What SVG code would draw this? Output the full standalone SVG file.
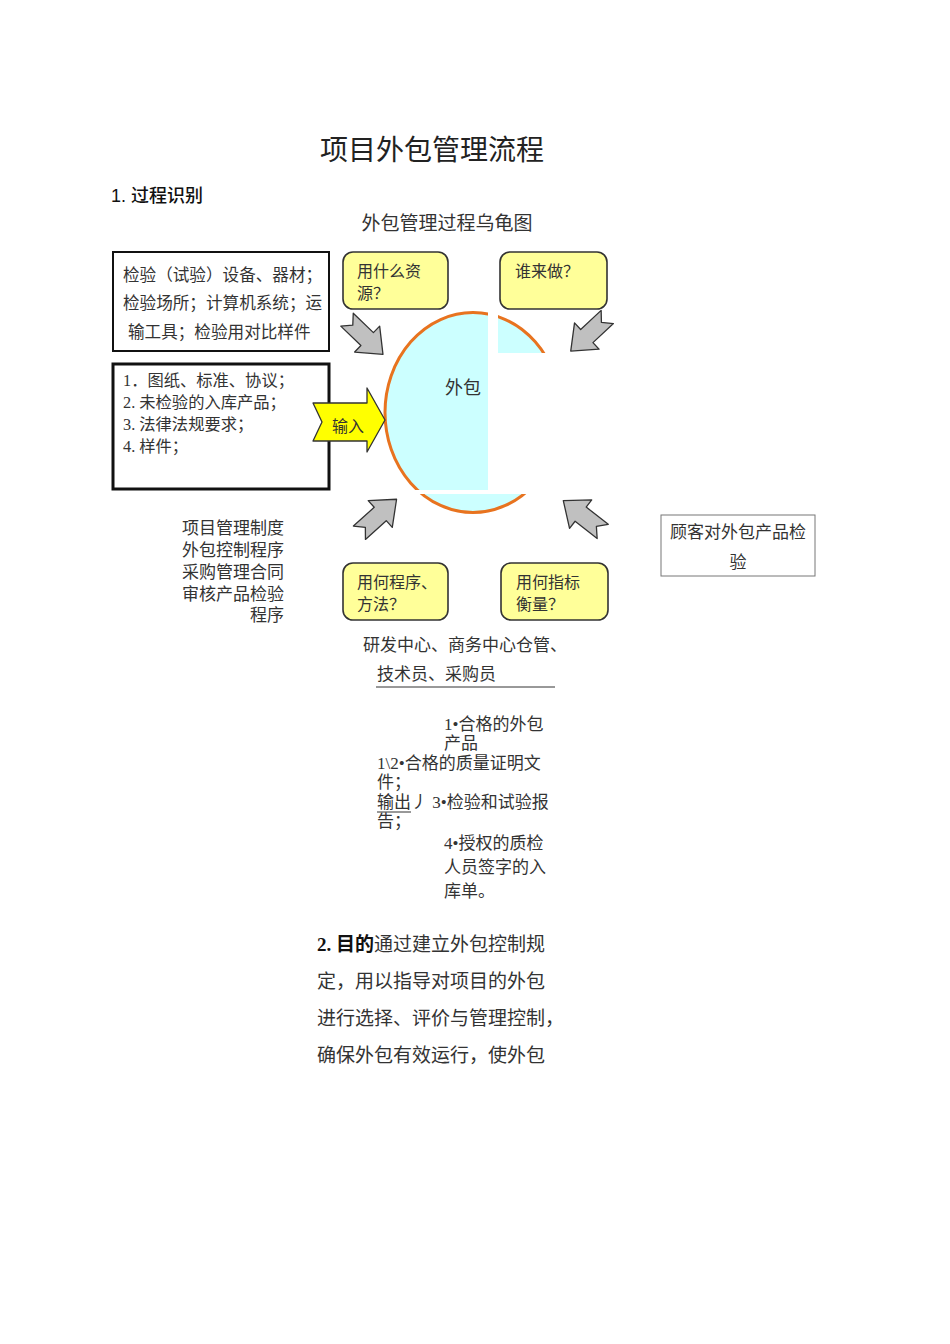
<svg xmlns="http://www.w3.org/2000/svg" width="950" height="1344" viewBox="0 0 950 1344">
<style>
text{font-family:"Liberation Serif","Noto Sans CJK SC",serif;fill:#333;}
.t15{font-size:16.3px;}
.to{font-size:17px;}
.tq{font-size:16px;}
.t16{font-size:16.6px;}
.t17{font-size:17px;}
.q{fill:#FFFF99;stroke:#333;stroke-width:1.6;}
.ga{fill:#C0C0C0;stroke:#333;stroke-width:1.3;stroke-linejoin:round;}
</style>
<defs>
<path id="arr" d="M-25,-9 L3,-9 L3,-18 L25,0 L3,18 L3,9 L-25,9 L-17,0 Z"/>
</defs>
<rect width="950" height="1344" fill="#fff"/>

<g id="title">
<text x="432" y="160" text-anchor="middle" style="font-size:28px;fill:#222">项目外包管理流程</text>
<text x="111" y="202" style="font-size:18px;font-family:'Liberation Sans','Noto Sans CJK SC',sans-serif;font-weight:500;fill:#111">1. 过程识别</text>
<text x="447" y="230" text-anchor="middle" style="font-size:19px">外包管理过程乌龟图</text>
</g>

<g id="center">
<ellipse cx="473" cy="412.5" rx="88" ry="100" fill="#CCFFFF" stroke="#E8731F" stroke-width="3"/>
<rect x="488" y="300" width="10" height="55" fill="#fff"/>
<rect x="488" y="353" width="90" height="137" fill="#fff"/>
<rect x="414" y="490" width="160" height="4" fill="#fff"/>
<text x="463" y="394" text-anchor="middle" style="font-size:18px">外包</text>
</g>

<g id="resources">
<rect x="113" y="252" width="216" height="99" fill="#fff" stroke="#111" stroke-width="2"/>
<text class="t16" x="123" y="281">检验（试验）设备、器材；</text>
<text class="t16" x="123" y="309">检验场所；计算机系统；运</text>
<text class="t16" x="128" y="338">输工具；检验用对比样件</text>
</g>

<g id="inputs">
<rect x="113" y="364" width="216" height="125" fill="#fff" stroke="#111" stroke-width="3"/>
<text class="t15" x="123" y="386">1．图纸、标准、协议；</text>
<text class="t15" x="123" y="408">2. 未检验的入库产品；</text>
<text class="t15" x="123" y="430">3. 法律法规要求；</text>
<text class="t15" x="123" y="452">4. 样件；</text>
</g>

<g id="q-what">
<rect class="q" x="343" y="252" width="105" height="57" rx="10"/>
<text class="tq" x="357" y="277">用什么资</text>
<text class="tq" x="357" y="299">源？</text>
</g>
<g id="q-who">
<rect class="q" x="500" y="252" width="107" height="57" rx="10"/>
<text class="tq" x="515" y="277">谁来做？</text>
</g>
<g id="q-how">
<rect class="q" x="343" y="563" width="105" height="57" rx="10"/>
<text class="tq" x="357" y="588">用何程序、</text>
<text class="tq" x="357" y="610">方法？</text>
</g>
<g id="q-measure">
<rect class="q" x="501" y="563" width="107" height="57" rx="10"/>
<text class="tq" x="516" y="588">用何指标</text>
<text class="tq" x="516" y="610">衡量？</text>
</g>

<g id="connectors">
<use href="#arr" class="ga" transform="translate(365,337) rotate(44)"/>
<use href="#arr" class="ga" transform="translate(589,334) rotate(137)"/>
<use href="#arr" class="ga" transform="translate(378,516) rotate(-42)"/>
<use href="#arr" class="ga" transform="translate(583,516) rotate(218)"/>
<path d="M313,403 L367,403 L367,388 L385,420 L367,452 L367,441 L313,441 L322,422 Z" fill="#FFFF00" stroke="#333" stroke-width="1.3" stroke-linejoin="round"/>
<text class="tq" x="332" y="432">输入</text>
</g>

<g id="methods">
<text class="t17" x="284" y="534" text-anchor="end">项目管理制度</text>
<text class="t17" x="284" y="556" text-anchor="end">外包控制程序</text>
<text class="t17" x="284" y="578" text-anchor="end">采购管理合同</text>
<text class="t17" x="284" y="600" text-anchor="end">审核产品检验</text>
<text class="t17" x="284" y="621" text-anchor="end">程序</text>
</g>

<g id="measure-box">
<rect x="661" y="515" width="154" height="61" fill="#fff" stroke="#777" stroke-width="1"/>
<text class="t17" x="738" y="538" text-anchor="middle">顾客对外包产品检</text>
<text class="t17" x="738" y="568" text-anchor="middle">验</text>
</g>

<g id="who-text">
<text class="t17" x="363" y="651">研发中心、商务中心仓管、</text>
<text class="t17" x="377" y="680">技术员、采购员</text>
<line x1="376" y1="687" x2="555" y2="687" stroke="#333" stroke-width="1"/>
</g>

<g id="outputs">
<text class="to" x="444" y="730">1•合格的外包</text>
<text class="to" x="444" y="749">产品</text>
<text class="to" x="377" y="769">1\2•合格的质量证明文</text>
<text class="to" x="377" y="788">件；</text>
<text class="to" x="377" y="808">输出丿 3•检验和试验报</text>
<line x1="377" y1="812" x2="411" y2="812" stroke="#333" stroke-width="1"/>
<text class="to" x="377" y="827">告；</text>
<text class="to" x="444" y="849">4•授权的质检</text>
<text class="to" x="444" y="873">人员签字的入</text>
<text class="to" x="444" y="897">库单。</text>
</g>

<g id="purpose">
<text x="317" y="951" style="font-size:19px"><tspan style="font-weight:bold;fill:#111">2. 目的</tspan>通过建立外包控制规</text>
<text x="317" y="988" style="font-size:19px">定，用以指导对项目的外包</text>
<text x="317" y="1025" style="font-size:19px">进行选择、评价与管理控制，</text>
<text x="317" y="1062" style="font-size:19px">确保外包有效运行，使外包</text>
</g>
</svg>
